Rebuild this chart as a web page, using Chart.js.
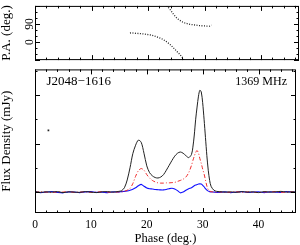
<!DOCTYPE html>
<html>
<head>
<meta charset="utf-8">
<script src="https://cdn.jsdelivr.net/npm/chart.js@4.4.1/dist/chart.umd.min.js"></script>
<style>
  html, body { margin: 0; padding: 0; background: #fff; }
  #wrap { position: relative; width: 300px; height: 245px; }
  #paChart { position: absolute; left: 0; top: 0; }
  #fluxChart { position: absolute; left: 0; top: 64px; }
</style>
</head>
<body>
<div id="wrap">
  <canvas id="paChart" width="300" height="66"></canvas>
  <canvas id="fluxChart" width="300" height="181"></canvas>
</div>
<script>
const SERIF = "'Liberation Serif', 'DejaVu Serif', serif";

// polarisation angle, two visible branches (deg)
const paPhaseA = [16.8, 17.1, 17.5, 18.0, 18.5, 19.0, 19.5, 20.0, 20.5, 21.0, 21.5, 22.0, 22.5, 23.0, 23.5, 24.0, 24.5, 25.0, 25.5, 26.0, 26.4];
const paValueA = [45, 46, 44, 43, 42, 41, 39, 37, 35, 31, 26, 21, 15, 7, -3, -15, -29, -44, -58, -74, -90];
const paPhaseB = [23.3, 23.6, 24.0, 24.5, 25.0, 25.5, 26.0, 26.5, 27.0, 27.5, 28.0, 28.5, 29.0, 29.5, 30.0, 30.5, 30.9, 31.2];
const paValueB = [182, 172, 158, 138, 122, 110, 101, 95, 91, 88, 86, 84, 82, 81, 80, 79, 79, 84];

// profile (mJy)
const phase = [
  0, 1, 2, 3, 4, 5, 6, 7, 8, 9, 10, 11, 12, 13, 14, 15,
  15.5, 16, 16.5, 17, 17.5, 18, 18.5, 19, 19.5, 20, 20.5, 21, 21.5, 22, 22.5, 23, 23.5,
  24, 24.5, 25, 25.5, 26, 26.5, 27, 27.5, 28, 28.25, 28.5, 28.75, 29, 29.25, 29.5, 29.75,
  30, 30.25, 30.5, 30.75, 31, 31.25, 31.5, 32, 32.5,
  33, 34, 35, 36, 37, 38, 39, 40, 41, 42, 43, 44, 45, 46, 46.7
];
const totalI = [
  2, -1, 1, 0, 2, -2, 1, 0, -1, 2, 0, -2, 1, 2, 0, 3,
  6, 18, 50, 100, 158, 193, 214, 205, 160, 108, 80, 67, 60, 58, 62, 72, 90,
  110, 130, 148, 160, 165, 160, 150, 142, 155, 185, 235, 300, 350, 395, 419, 412,
  368, 300, 225, 150, 90, 48, 24, 8, 3,
  2, 0, 1, -1, 2, 0, 1, -2, 2, 0, 1, 3, 0, 1, 0
];
const linearL = [
  -1, 1, 0, -2, 1, 0, 2, -1, 0, 1, -1, 0, 2, 0, -1, 1,
  1, 3, 8, 15, 35, 65, 88, 97, 90, 72, 58, 48, 42, 38, 37, 37, 38,
  38, 39, 40, 44, 48, 53, 62, 80, 110, 130, 148, 163, 171, 160, 138, 118,
  95, 75, 50, 25, 10, 4, 2, 0, -1,
  1, -1, 0, 2, -1, 1, 0, -2, 1, 0, 2, -1, 0, 1, 0
];
const circularV = [
  1, -2, 0, 2, -1, -3, 1, 0, -2, 1, 2, -1, 0, -2, 1, 0,
  2, 3, 5, 8, 12, 18, 26, 32, 24, 17, 14, 13, 11, 10, 9, 9, 11,
  14, 16, 13, 6, -3, 0, 8, 14, 18, 22, 26, 29, 31, 33, 34, 33,
  28, 22, 14, 8, 4, 2, 1, 0, -1,
  -1, 1, -2, 0, 2, -1, 0, 1, -2, 1, 0, -1, 2, 0, 1
];

// typical error marker
const errPhase = [2.4];
const errValue = [254];

const xTicks = [0, 10, 20, 30, 40];
const paTickLabels = [0, 90];
const fluxTickLabels = [0, 200, 400];

function pts(xs, ys) {
  return xs.map((x, i) => ({ x: x, y: ys[i] }));
}

// PGPLOT-ish box: frame + inward ticks on all four sides
function boxPlugin(xMajor, xMinor, yMajor, yMinor, labels) {
  return {
    id: "pgbox",
    afterDatasetsDraw(chart) {
      const ctx = chart.ctx;
      const a = chart.chartArea;
      const xs = chart.scales.x;
      const ys = chart.scales.y;
      ctx.save();
      ctx.strokeStyle = "#000";
      ctx.lineWidth = 1;
      ctx.strokeRect(a.left + 0.5, a.top + 0.5, a.right - a.left - 1, a.bottom - a.top - 1);
      ctx.beginPath();
      for (let v = Math.ceil(xs.min / xMinor) * xMinor; v <= xs.max; v += xMinor) {
        const p = Math.round(xs.getPixelForValue(v)) + 0.5;
        const big = Math.abs(v / xMajor - Math.round(v / xMajor)) < 1e-6;
        const len = big ? 5 : 2.5;
        ctx.moveTo(p, a.bottom); ctx.lineTo(p, a.bottom - len);
        ctx.moveTo(p, a.top); ctx.lineTo(p, a.top + len);
      }
      for (let v = Math.ceil(ys.min / yMinor) * yMinor; v <= ys.max; v += yMinor) {
        const p = Math.round(ys.getPixelForValue(v)) + 0.5;
        const big = Math.abs(v / yMajor - Math.round(v / yMajor)) < 1e-6;
        const len = big ? 5 : 2.5;
        ctx.moveTo(a.left, p); ctx.lineTo(a.left + len, p);
        ctx.moveTo(a.right, p); ctx.lineTo(a.right - len, p);
      }
      ctx.stroke();

      if (labels) {
        ctx.fillStyle = "#000";
        ctx.textBaseline = "middle";
        labels.forEach((t) => {
          ctx.font = t.size + "px " + SERIF;
          ctx.textAlign = t.align;
          ctx.fillText(t.text, t.x, t.y);
        });
      }
      ctx.restore();
    }
  };
}

function yAxis(min, max, step, shown, title, pad) {
  return {
    type: "linear",
    position: "left",
    min: min,
    max: max,
    afterFit(scale) { scale.width = 35; },
    grid: { display: false, drawTicks: false },
    border: { display: false },
    ticks: {
      stepSize: step,
      includeBounds: false,
      minRotation: 90,
      maxRotation: 90,
      crossAlign: "center",
      padding: pad,
      color: "#000",
      font: { family: SERIF, size: 11.5 },
      callback: (v) => (shown.includes(v) ? String(v) : "")
    },
    title: {
      display: true,
      text: title,
      color: "#000",
      font: { family: SERIF, size: 13, lineHeight: 1 },
      padding: { top: 0.5, bottom: 0 }
    }
  };
}

const common = {
  responsive: false,
  animation: false,
  devicePixelRatio: 1,
  events: [],
  plugins: { legend: { display: false }, tooltip: { enabled: false } }
};

new Chart(document.getElementById("paChart"), {
  type: "scatter",
  data: {
    datasets: [
      {
        data: pts(paPhaseA, paValueA),
        showLine: true,
        borderColor: "#222",
        borderWidth: 1.3,
        borderDash: [1, 1.5],
        pointRadius: 0
      },
      {
        data: pts(paPhaseB, paValueB),
        showLine: true,
        borderColor: "#222",
        borderWidth: 1.3,
        borderDash: [1, 1.5],
        pointRadius: 0
      }
    ]
  },
  options: {
    ...common,
    layout: { padding: { left: 0, right: 1, top: 1, bottom: 1.5 } },
    scales: {
      x: { type: "linear", min: 0, max: 46.7, display: false },
      y: yAxis(-90, 180, 90, paTickLabels, "P.A. (deg.)", -1)
    }
  },
  plugins: [boxPlugin(10, 2, 90, 30)]
});

new Chart(document.getElementById("fluxChart"), {
  type: "scatter",
  data: {
    datasets: [
      {
        data: pts(phase, totalI),
        showLine: true,
        borderColor: "#222",
        borderWidth: 1,
        pointRadius: 0,
        tension: 0.3
      },
      {
        data: pts(phase, linearL),
        showLine: true,
        borderColor: "#f03030",
        borderWidth: 1,
        borderDash: [4, 2, 1, 2],
        pointRadius: 0,
        tension: 0.3
      },
      {
        data: pts(phase, circularV),
        showLine: true,
        borderColor: "#1010ff",
        borderWidth: 1.1,
        pointRadius: 0,
        tension: 0.2
      },
      {
        data: pts(errPhase, errValue),
        pointStyle: "rect",
        pointRadius: 1.2,
        backgroundColor: "#222",
        borderColor: "#222",
        borderWidth: 0
      }
    ]
  },
  options: {
    ...common,
    layout: { padding: { left: 0, right: 1, top: 1, bottom: 0 } },
    scales: {
      x: {
        type: "linear",
        position: "bottom",
        min: 0,
        max: 46.7,
        afterFit(scale) { scale.height = 32; },
        grid: { display: false, drawTicks: false },
        border: { display: false },
        ticks: {
          stepSize: 10,
          includeBounds: false,
          maxRotation: 0,
          padding: 5,
          color: "#000",
          font: { family: SERIF, size: 11.5 },
          callback: (v) => (xTicks.includes(v) ? String(v) : "")
        },
        title: {
          display: true,
          text: "Phase (deg.)",
          color: "#000",
          font: { family: SERIF, size: 12.5, lineHeight: 1 },
          padding: { top: 0, bottom: 0.5 }
        }
      },
      y: yAxis(-86, 505, 200, fluxTickLabels, "Flux Density (mJy)", -1.5)
    }
  },
  plugins: [boxPlugin(10, 2, 200, 100, [
    { text: "J2048\u22121616", x: 46.5, y: 17.7, size: 13, align: "left" },
    { text: "1369 MHz", x: 287, y: 17.7, size: 12, align: "right" }
  ])]
});
</script>
</body>
</html>
